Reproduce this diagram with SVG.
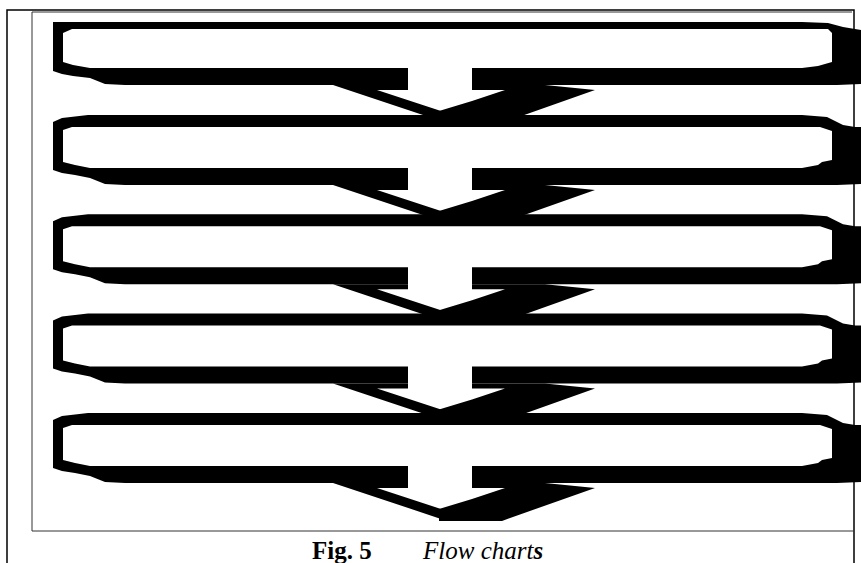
<svg xmlns="http://www.w3.org/2000/svg" xmlns:xlink="http://www.w3.org/1999/xlink" width="861" height="563" viewBox="0 0 861 563">
<style>
.blk{fill:#000;stroke:none}
.frame{fill:none;stroke:#000;stroke-width:1.5}
.inner{fill:none;stroke:#333;stroke-width:1}
.cap{font-family:"Liberation Serif","Times New Roman",serif;font-size:25px;fill:#000}
</style>
<defs>
<path id="boxShape" class="blk" d="M472,70 L837,70 L861,69 L861,12 L855,12 L843,10 L827,2 L802,0 L88,0 L62,3 L53,7 L53,55 L62,58 L75,60 L90,63 L105,69 L125,70 L408,70 L408,53 L90,53 L75,50 L63,47 L63,15 L72,12 L820,12 L832,16 L832,45 L822,47 L818,50 L802,53 L472,53 Z"/>
<g id="arrowShape">
<path class="blk" d="M333,0 L408,0 L408,5 L377,5 L441,26 L441,36 Z"/>
<path class="blk" d="M472,0 L545,0 L595,5 L502,38 L439,38 L439,26 L472,16 L505,5 L472,5 Z"/>
</g>
</defs>
<rect x="0" y="0" width="861" height="563" fill="#fff"/>
<g id="frame">
<polyline class="frame" points="7,563 7,10 854,10 854,563"/>
<polyline class="inner" points="32,12 852,12"/>
<polyline class="inner" points="32,12 32,531 854,531"/>
</g>
<g id="connectors">
<use xlink:href="#arrowShape" transform="translate(0,85)"/>
<use xlink:href="#arrowShape" transform="translate(0,185)"/>
<use xlink:href="#arrowShape" transform="translate(0,284.3)"/>
<use xlink:href="#arrowShape" transform="translate(0,383.6)"/>
<use xlink:href="#arrowShape" transform="translate(0,482.9)"/>
</g>
<g id="box1">
<path class="blk" d="M472,85 L837,85 L861,84 L861,30 L843,27 L828,23 L802,22 L53,22 L53,71 L62,74 L73,76 L90,78 L105,84 L125,85 L408,85 L408,68 L90,68 L73,65 L63,62 L63,33 L72,29 L828,29 L832,33 L832,62 L818,66 L802,68 L472,68 Z"/>
</g>
<g id="box2"><use xlink:href="#boxShape" transform="translate(0,115)"/></g>
<g id="box3"><use xlink:href="#boxShape" transform="translate(0,214.3)"/></g>
<g id="box4"><use xlink:href="#boxShape" transform="translate(0,313.6)"/></g>
<g id="box5"><use xlink:href="#boxShape" transform="translate(0,412.9)"/></g>
<g id="caption">
<text class="cap" x="312" y="559" font-weight="bold">Fig. 5</text>
<text class="cap" x="423" y="559" font-style="italic">Flow chart<tspan font-weight="bold">s</tspan></text>
</g>
</svg>
